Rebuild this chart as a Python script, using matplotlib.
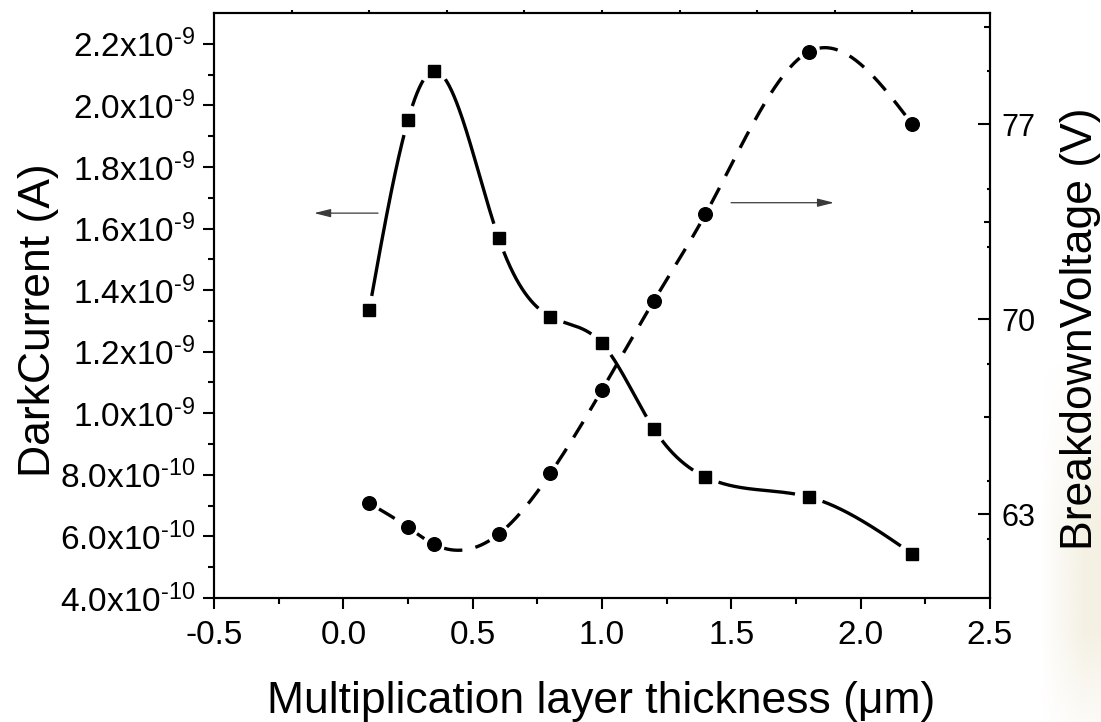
import numpy as np
import matplotlib
matplotlib.use("Agg")
import matplotlib.pyplot as plt
from matplotlib.ticker import FixedLocator, FixedFormatter

# ---------------- data ----------------
thickness = [0.1, 0.25, 0.35, 0.6, 0.8, 1.0, 1.2, 1.4, 1.8, 2.2]
dark_current = [1.335e-9, 1.952e-9, 2.112e-9, 1.570e-9, 1.314e-9,
                1.227e-9, 0.950e-9, 0.793e-9, 0.728e-9, 0.543e-9]
breakdown_voltage = [63.40, 62.54, 61.93, 62.29, 64.47,
                     67.47, 70.66, 73.78, 79.61, 77.00]

x_ticks = [-0.5, 0.0, 0.5, 1.0, 1.5, 2.0, 2.5]
x_tick_labels = ["-0.5", "0.0", "0.5", "1.0", "1.5", "2.0", "2.5"]
left_ticks = [4e-10, 6e-10, 8e-10, 1.0e-9, 1.2e-9, 1.4e-9, 1.6e-9, 1.8e-9, 2.0e-9, 2.2e-9]
left_tick_labels = [r"4.0x10$^{\text{-10}}$", r"6.0x10$^{\text{-10}}$", r"8.0x10$^{\text{-10}}$",
                    r"1.0x10$^{\text{-9}}$", r"1.2x10$^{\text{-9}}$", r"1.4x10$^{\text{-9}}$",
                    r"1.6x10$^{\text{-9}}$", r"1.8x10$^{\text{-9}}$", r"2.0x10$^{\text{-9}}$",
                    r"2.2x10$^{\text{-9}}$"]
right_ticks = [63, 70, 77]
right_tick_labels = ["63", "70", "77"]

plt.rcParams["font.family"] = ["Liberation Sans", "DejaVu Sans"]
plt.rcParams["mathtext.fontset"] = "custom"
plt.rcParams["mathtext.rm"] = "Liberation Sans"
plt.rcParams["mathtext.default"] = "regular"


def natural_cubic(x, y, xs):
    x = np.asarray(x, float)
    y = np.asarray(y, float)
    n = len(x)
    h = np.diff(x)
    A = np.zeros((n, n))
    b = np.zeros(n)
    A[0, 0] = 1
    A[-1, -1] = 1
    for i in range(1, n - 1):
        A[i, i - 1] = h[i - 1]
        A[i, i] = 2 * (h[i - 1] + h[i])
        A[i, i + 1] = h[i]
        b[i] = 6 * ((y[i + 1] - y[i]) / h[i] - (y[i] - y[i - 1]) / h[i - 1])
    M = np.linalg.solve(A, b)
    idx = np.clip(np.searchsorted(x, xs) - 1, 0, n - 2)
    x0 = x[idx]
    x1 = x[idx + 1]
    hh = x1 - x0
    t0 = x1 - xs
    t1 = xs - x0
    return (M[idx] * t0 ** 3 / (6 * hh) + M[idx + 1] * t1 ** 3 / (6 * hh)
            + (y[idx] / hh - M[idx] * hh / 6) * t0
            + (y[idx + 1] / hh - M[idx + 1] * hh / 6) * t1)


def gapped(ax, xs, ys, px, py, radius):
    pts = ax.transData.transform(np.column_stack([xs, ys]))
    mk = ax.transData.transform(np.column_stack([px, py]))
    d = np.min(np.hypot(pts[:, None, 0] - mk[None, :, 0],
                        pts[:, None, 1] - mk[None, :, 1]), axis=1)
    ys = np.array(ys, float)
    ys[d < radius] = np.nan
    return ys


W, H = 1101, 722
fig = plt.figure(figsize=(W / 100, H / 100), dpi=100)
L, R, T, B = 214, 990, 13, 598
ax = fig.add_axes([L / W, 1 - B / H, (R - L) / W, (B - T) / H])
ax2 = ax.twinx()

ax.set_xlim(-0.5, 2.5)
ax.set_ylim(4e-10, 2.3e-9)
ax2.set_ylim(60, 81)

# faint background blob at lower right
bg = fig.add_axes([1030 / W, 0, 71 / W, 360 / H], zorder=-5)
gy, gx = np.mgrid[0:1:300j, 0:1:80j]
ramp_x = np.clip((gx - 0.15) / 0.6, 0, 1)
ramp_y = np.clip(gy / 0.45, 0, 1) * np.clip((1 - gy) / 0.35 + 0.3, 0, 1)
alpha = ramp_x * ramp_y * 0.45
img = np.zeros((300, 80, 4))
img[..., 0] = 232 / 255
img[..., 1] = 224 / 255
img[..., 2] = 196 / 255
img[..., 3] = alpha
bg.imshow(img, aspect="auto", origin="upper", extent=[0, 1, 0, 1],
          interpolation="bilinear")
bg.axis("off")

lw = 2.4
xs = np.linspace(thickness[0], thickness[-1], 1500)
ys1 = natural_cubic(thickness, dark_current, xs)
ys2 = natural_cubic(thickness, breakdown_voltage, xs)

ax.plot(xs, gapped(ax, xs, ys1, thickness, dark_current, 14),
        color="black", lw=lw, solid_capstyle="butt", zorder=3)
ax.plot(thickness, dark_current, ls="none", marker="s", ms=8.8,
        color="black", zorder=4)

ax2.plot(xs, gapped(ax2, xs, ys2, thickness, breakdown_voltage, 11),
         color="black", lw=lw, ls=(0, (5.5, 4.0)), zorder=3)
ax2.plot(thickness, breakdown_voltage, ls="none", marker="o", ms=9.8,
         color="black", zorder=4)

# arrows
ax.annotate("", xy=(-0.113, 1.65e-9), xytext=(0.134, 1.65e-9),
            arrowprops=dict(arrowstyle="-|>,head_length=1.0,head_width=0.25",
                            mutation_scale=10, lw=0.9, color="#3a3a3a",
                            shrinkA=0, shrinkB=0))
ax2.annotate("", xy=(1.897, 74.19), xytext=(1.499, 74.19),
             arrowprops=dict(arrowstyle="-|>,head_length=1.0,head_width=0.25",
                             mutation_scale=10, lw=0.9, color="#3a3a3a",
                             shrinkA=0, shrinkB=0))

# spines
for a in (ax, ax2):
    for s in a.spines.values():
        s.set_linewidth(1.5)

# left / bottom ticks
ax.xaxis.set_major_locator(FixedLocator(x_ticks))
ax.xaxis.set_major_formatter(FixedFormatter(x_tick_labels))
ax.xaxis.set_minor_locator(FixedLocator(np.arange(-0.25, 2.5, 0.5)))
ax.yaxis.set_major_locator(FixedLocator(left_ticks))
ax.yaxis.set_major_formatter(FixedFormatter(left_tick_labels))
ax.yaxis.set_minor_locator(FixedLocator(np.arange(5e-10, 2.15e-9, 2e-10)))
ax.tick_params(which="major", direction="out", length=8.2, width=1.5,
               labelsize=24, pad=5)
ax.tick_params(axis="x", which="major", pad=7.5)
ax.tick_params(which="minor", direction="out", length=4.5, width=1.5)
ax.tick_params(axis="y", which="both", right=False)
ax.tick_params(axis="x", which="both", top=False)

# top small ticks
top = ax.secondary_xaxis("top")
top.set_xticks(np.arange(-0.2, 2.3, 0.3))
top.tick_params(direction="out", length=2.5, width=1.5, labeltop=False)
top.spines["top"].set_visible(False)

# right axis
ax2.yaxis.set_major_locator(FixedLocator(right_ticks))
ax2.yaxis.set_major_formatter(FixedFormatter(right_tick_labels))
ax2.yaxis.set_minor_locator(FixedLocator([66.5, 73.5, 80.5]))
ax2.tick_params(which="major", direction="in", length=8.5, width=1.5,
                labelsize=22, pad=8)
ax2.tick_params(which="minor", direction="in", length=4.3, width=1.5)
sr = ax2.secondary_yaxis("right")
sr.set_yticks([62.1, 64.2, 68.4, 72.6, 74.7, 78.9])
sr.tick_params(direction="in", length=2.3, width=1.5, labelright=False)
sr.spines["right"].set_visible(False)

# axis titles
fig.text(601 / W, 1 - 713 / H, "Multiplication layer thickness (μm)",
         fontsize=32, ha="center", va="baseline")
fig.text(50 / W, 1 - 320 / H, "DarkCurrent (A)", fontsize=32, rotation=90,
         rotation_mode="anchor", ha="center", va="baseline")
fig.text(1092 / W, 1 - 329 / H, "BreakdownVoltage (V)", fontsize=32,
         rotation=90, rotation_mode="anchor", ha="center", va="baseline")

fig.savefig("out.png", dpi=100)
